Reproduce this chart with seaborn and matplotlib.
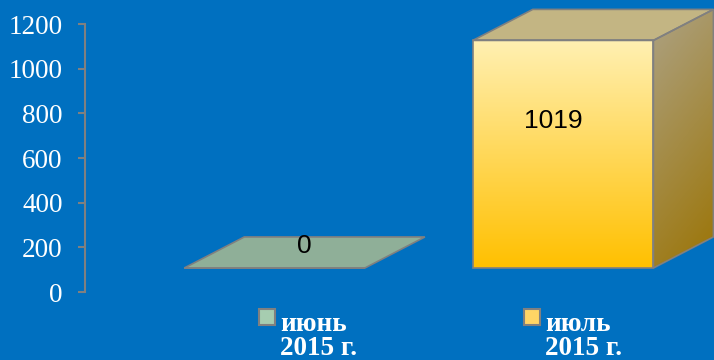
import numpy as np
import seaborn as sns
import matplotlib.pyplot as plt
from matplotlib.patches import Polygon
from matplotlib import transforms as mtrans
from matplotlib.colors import LinearSegmentedColormap

# chart data
months = ['июнь', 'июль']
years = ['2015 г.', '2015 г.']
values = [0, 1019]
yticks = [0, 200, 400, 600, 800, 1000, 1200]

# colours per bar: front (top, bottom), side (top, bottom), top face, legend key
front_cols = [('#8FAF98', '#8FAF98'), ('#FFF0B2', '#FFC000')]
side_cols = [('#8FAF98', '#8FAF98'), ('#ACA07E', '#9C760A')]
top_cols = ['#8FAF98', '#C3B583']
key_cols = ['#A6CDB0', '#FFD565']

bg = '#0070C0'
edge = '#808080'

sns.set_style('white')
plt.rcParams['font.family'] = ['Liberation Serif', 'DejaVu Serif']

fig = plt.figure(figsize=(7.14, 3.6), dpi=100, facecolor=bg)
ax = fig.add_axes([85 / 714, 68 / 360, 629 / 714, 268 / 360])
ax.set_facecolor('none')

sns.barplot(x=months, y=values, hue=months, legend=False, width=0.626, ax=ax)

# 3d look: floor sits 24px above the axis zero, depth given in data units
shift = mtrans.ScaledTranslation(0, 0.24, fig.dpi_scale_trans)
tr = ax.transData + shift
dx, dy = 0.208, 139

for i, bar in enumerate(ax.patches[:len(values)]):
    x0 = bar.get_x()
    x1 = x0 + bar.get_width()
    h = values[i]
    bar.set_transform(tr)
    bar.set_facecolor('none')
    bar.set_edgecolor(edge)
    bar.set_linewidth(1.2)
    bar.set_clip_on(False)
    bar.set_zorder(4)

    # top face
    top = Polygon([(x0, h), (x1, h), (x1 + dx, h + dy), (x0 + dx, h + dy)],
                  closed=True, facecolor=top_cols[i], edgecolor=edge, lw=1.2,
                  transform=tr, clip_on=False, zorder=3)
    ax.add_patch(top)

    if h > 0:
        # front gradient
        cmap = LinearSegmentedColormap.from_list('f%d' % i, [front_cols[i][1], front_cols[i][0]])
        grad = np.linspace(0, 1, 256).reshape(-1, 1)
        im = ax.imshow(grad, cmap=cmap, origin='lower', aspect='auto',
                       extent=(x0, x1, 0, h), transform=tr, zorder=2)
        im.set_clip_box(fig.bbox)

        # side face with diagonal gradient
        side = Polygon([(x1, 0), (x1 + dx, dy), (x1 + dx, h + dy), (x1, h)],
                       closed=True, facecolor='none', edgecolor=edge, lw=1.2,
                       transform=tr, clip_on=False, zorder=3)
        ax.add_patch(side)
        cmap2 = LinearSegmentedColormap.from_list('s%d' % i, [side_cols[i][1], side_cols[i][0]])
        gx, gy = np.meshgrid(np.linspace(0, 1, 64), np.linspace(0, 1, 256))
        sgrad = np.clip(gy * 0.85 - gx * 0.25 + 0.2, 0, 1)
        im2 = ax.imshow(sgrad, cmap=cmap2, origin='lower', aspect='auto',
                        extent=(x1, x1 + dx, 0, h + dy), transform=tr, zorder=2)
        im2.set_clip_box(fig.bbox)
        im2.set_clip_path(side)

    # data label
    cx = (x0 + x1) / 2
    lx = cx + dx / 2 if h == 0 else cx - 0.035
    ax.text(lx, h * 0.55 + dy * 0.7, str(h), transform=tr, ha='center', va='center',
            fontsize=19, color='black', family=['Liberation Sans', 'DejaVu Sans'], zorder=6)

# category labels with legend-like keys
blend = mtrans.blended_transform_factory(ax.transData, ax.transAxes)
for i in range(len(months)):
    tx = i * 0.918 + 0.019
    ax.text(tx, -0.1455, months[i], transform=blend, ha='left', va='baseline',
            fontsize=19.5, fontweight='bold', color='white')
    ax.text(tx, -0.235, years[i], transform=blend, ha='left', va='baseline',
            fontsize=19.5, fontweight='bold', color='white')
    ax.plot([tx - 0.045], [-0.093], marker='s', markersize=11, markerfacecolor=key_cols[i],
            markeredgecolor=edge, markeredgewidth=1.5, transform=blend, clip_on=False)

ax.set_xlim(-0.657, 1.523)
ax.set_ylim(0, 1200)
ax.set_yticks(yticks)
ax.set_yticklabels([str(t) for t in yticks])
ax.set_xticks([])
ax.set_xlabel('')
ax.set_ylabel('')
for s in ['top', 'right', 'bottom']:
    ax.spines[s].set_visible(False)
ax.spines['left'].set_color(edge)
ax.spines['left'].set_linewidth(1.5)
ax.tick_params(axis='y', left=True, direction='out', length=5, width=1.5, color=edge,
               labelcolor='white', labelsize=19.5, pad=11)

fig.savefig('out.png', dpi=100, facecolor=bg)
